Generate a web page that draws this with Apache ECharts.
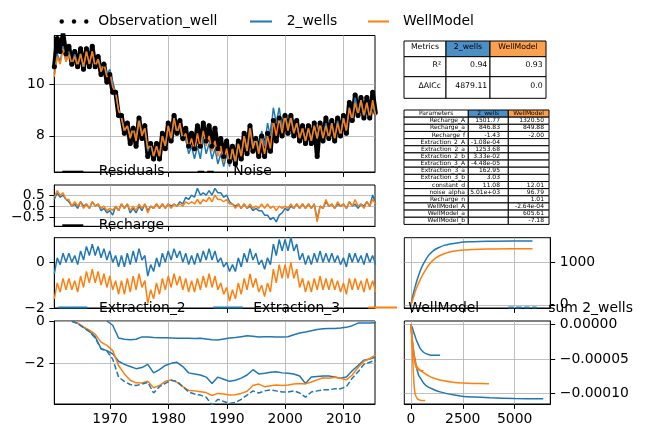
<!DOCTYPE html>
<html><head><meta charset="utf-8">
<script src="https://cdn.jsdelivr.net/npm/echarts@6.0.0/dist/echarts.min.js"></script>
<style>html,body{margin:0;padding:0;background:#fff}#c{width:647px;height:438px}</style>
</head><body><div id="c"></div>
<script>
// ================= DATA =================
const FIRST_DATE = 1960.46;   // decimal year of first sample
const HALF_YEAR = 0.5;        // sampling step of the semi-annual series
const ONE_YEAR = 1;           // sampling step of the annual series

const OBS = [10.7,
11.8,11.3, 12.0,11.2, 11.5,10.8, 11.3,10.7, 11.4,10.6, 11.4,10.7, 11.5,10.7, 11.1,10.4, 10.8,10.1, 10.4,9.7,
9.7,8.8, 8.8,8.1, 8.5,7.7, 8.3,7.6, 8.7,7.9, 8.4,7.2, 7.7,7.1, 7.7,7.1, 8.1,7.5, 8.5,7.8,
8.8,8.1, 8.6,7.9, 8.3,7.6, 8.1,7.5, 8.4,7.6, 8.5,7.8, 8.4,7.6, 8.3,7.5, 7.9,7.2, 7.8,7.0,
7.6,6.9, 7.8,7.1, 8.1,7.3, 8.4,7.4, 7.9,7.2, 8.0,7.2, 8.1,7.4, 8.6,7.8, 8.7,8.0, 8.8,8.1,
8.8,8.0, 8.6,7.8, 8.4,7.7, 8.4,7.7, 8.5,7.2, 8.5,7.8, 8.7,7.9, 8.6,7.8, 8.7,8.0, 8.8,8.1,
9.3,8.6, 9.6,8.8, 9.5,8.7, 9.5,8.7, 9.7,8.9];

const SIM_2WELLS = [10.4,
11.2,10.9, 11.5,10.9, 11.3,10.8, 11.2,10.8, 11.2,10.6, 11.3,10.8, 11.3,10.7, 11.0,10.6, 10.9,10.4, 10.6,10.1,
9.7,9.0, 8.7,8.2, 8.4,8.0, 8.4,7.9, 8.7,8.1, 8.3,7.4, 7.7,7.2, 7.6,7.2, 8.0,7.6, 8.4,7.8,
8.7,8.1, 8.4,7.8, 7.9,7.3, 7.6,7.1, 7.6,7.1, 7.9,7.3, 7.7,7.1, 7.5,6.9, 7.3,6.8, 7.3,6.8,
7.5,6.9, 7.7,7.2, 8.0,7.4, 8.4,7.6, 8.0,7.4, 8.2,7.6, 8.5,8.0, 9.1,8.5, 9.1,8.3, 8.9,8.3,
8.8,8.1, 8.5,7.9, 8.3,7.8, 8.3,7.8, 8.4,7.9, 8.5,7.9, 8.5,7.9, 8.5,7.9, 8.6,8.0, 8.7,8.2,
9.1,8.6, 9.5,8.9, 9.4,8.7, 9.3,8.7, 9.2,8.8];

const SIM_WELLMODEL = [10.3,
11.1,10.8, 11.4,10.9, 11.2,10.8, 11.1,10.7, 11.2,10.7, 11.3,10.8, 11.3,10.7, 11.0,10.5, 10.8,10.3, 10.5,9.9,
9.7,9.0, 8.7,8.2, 8.4,7.9, 8.3,7.8, 8.6,8.0, 8.3,7.5, 7.7,7.2, 7.6,7.2, 8.0,7.6, 8.4,7.9,
8.7,8.1, 8.5,7.9, 8.1,7.5, 7.9,7.4, 8.1,7.5, 8.2,7.6, 8.0,7.4, 7.8,7.2, 7.6,7.0, 7.5,6.9,
7.5,7.0, 7.7,7.2, 8.0,7.4, 8.3,7.5, 7.9,7.3, 7.9,7.3, 8.0,7.5, 8.6,8.0, 8.7,8.1, 8.8,8.2,
8.7,8.1, 8.5,7.9, 8.3,7.8, 8.3,7.8, 8.4,7.9, 8.5,7.9, 8.4,7.9, 8.5,7.9, 8.5,8.0, 8.7,8.2,
9.1,8.6, 9.3,8.8, 9.4,8.8, 9.3,8.7, 9.4,8.8];

const RES_2WELLS = [0.3,
0.6,0.4, 0.5,0.3, 0.2,0.0, 0.1,-0.1, 0.2,0.0, 0.1,-0.1, 0.2,0.0, 0.1,-0.2, -0.1,-0.3, -0.2,-0.4,
0.0,-0.2, 0.1,-0.1, 0.1,-0.3, -0.1,-0.3, 0.0,-0.2, 0.1,-0.2, 0.0,-0.1, 0.1,-0.1, 0.1,-0.1, 0.1,0.0,
0.1,0.0, 0.2,0.1, 0.4,0.3, 0.5,0.4, 0.8,0.5, 0.6,0.5, 0.7,0.5, 0.8,0.6, 0.6,0.4, 0.5,0.2,
0.1,0.0, 0.1,-0.1, 0.1,-0.1, 0.0,-0.2, -0.1,-0.2, -0.2,-0.4, -0.4,-0.6, -0.5,-0.7, -0.4,-0.3, -0.1,-0.2,
0.0,-0.1, 0.1,-0.1, 0.1,-0.1, 0.1,-0.1, 0.1,-0.6, 0.0,-0.1, 0.2,0.0, 0.1,-0.1, 0.1,0.0, 0.1,-0.1,
0.2,0.0, 0.1,-0.1, 0.1,0.0, 0.2,0.0, 0.5,0.1];

const RES_WELLMODEL = [0.4,
0.7,0.5, 0.6,0.3, 0.3,0.0, 0.2,0.0, 0.2,-0.1, 0.1,-0.1, 0.2,0.0, 0.1,-0.1, 0.0,-0.2, -0.1,-0.2,
0.0,-0.2, 0.1,-0.1, 0.1,-0.2, 0.0,-0.2, 0.1,-0.1, 0.1,-0.3, 0.0,-0.1, 0.1,-0.1, 0.1,-0.1, 0.1,-0.1,
0.1,0.0, 0.1,0.0, 0.2,0.1, 0.2,0.1, 0.3,0.1, 0.3,0.2, 0.4,0.2, 0.5,0.3, 0.3,0.2, 0.3,0.1,
0.1,-0.1, 0.1,-0.1, 0.1,-0.1, 0.1,-0.1, 0.0,-0.1, 0.1,-0.1, 0.1,-0.1, 0.0,-0.2, 0.0,-0.1, 0.0,-0.1,
0.1,-0.1, 0.1,-0.1, 0.1,-0.1, 0.1,-0.1, 0.1,-0.7, 0.0,-0.1, 0.3,0.0, 0.1,-0.1, 0.2,0.0, 0.1,-0.1,
0.2,0.0, 0.3,0.0, 0.1,-0.1, 0.2,0.0, 0.3,0.1];

const RECH_2WELLS = [-0.5,
0.2,-0.1, 0.4,0.0, 0.4,0.0, 0.3,-0.1, 0.5,0.1, 0.7,0.3, 0.8,0.3, 0.7,0.2, 0.6,0.1, 0.5,0.0,
0.3,-0.2, 0.3,-0.2, 0.4,-0.1, 0.5,0.0, 0.6,0.1, 0.3,-0.6, -0.1,-0.4, 0.2,-0.2, 0.4,0.0, 0.5,0.1,
0.6,0.2, 0.5,0.0, 0.4,-0.1, 0.3,-0.1, 0.4,0.0, 0.5,0.1, 0.6,0.1, 0.5,0.0, 0.2,-0.2, 0.0,-0.4,
-0.1,-0.4, 0.2,-0.2, 0.4,0.0, 0.6,0.1, 0.4,-0.1, 0.1,-0.3, 0.2,-0.1, 0.8,0.3, 1.0,0.5, 1.0,0.5,
1.1,0.5, 0.8,0.1, 0.4,-0.1, 0.3,-0.1, 0.4,0.0, 0.5,0.0, 0.4,0.0, 0.4,0.0, 0.3,-0.1, 0.2,-0.2,
0.4,0.0, 0.4,0.0, 0.3,-0.1, 0.4,0.0, 0.3,-0.1];

const RECH_WELLMODEL = [-1.6,
-0.9,-1.3, -0.7,-1.2, -0.7,-1.2, -0.8,-1.3, -0.6,-1.1, -0.4,-0.9, -0.3,-0.9, -0.4,-1.0, -0.5,-1.1, -0.6,-1.2,
-0.8,-1.4, -0.8,-1.4, -0.7,-1.3, -0.6,-1.2, -0.5,-1.1, -0.8,-1.8, -1.2,-1.6, -0.9,-1.4, -0.7,-1.2, -0.6,-1.1,
-0.5,-1.0, -0.6,-1.2, -0.7,-1.3, -0.8,-1.3, -0.7,-1.2, -0.6,-1.1, -0.5,-1.1, -0.6,-1.2, -0.9,-1.4, -1.1,-1.7,
-1.2,-1.6, -0.9,-1.4, -0.7,-1.2, -0.5,-1.1, -0.7,-1.3, -1.0,-1.5, -0.9,-1.3, -0.3,-0.9, -0.1,-0.7, -0.1,-0.7,
0.0,-0.7, -0.3,-1.1, -0.7,-1.3, -0.8,-1.3, -0.7,-1.2, -0.6,-1.2, -0.7,-1.2, -0.7,-1.2, -0.8,-1.3, -0.9,-1.4,
-0.7,-1.2, -0.7,-1.2, -0.8,-1.3, -0.7,-1.2, -0.8,-1.3];

// annual contributions of the extraction wells
const EXTR_2 = [null,null,null,null,null,null,null,null,null,0,
-0.2,-0.8,-0.86,-0.88,-0.86,-0.75,-0.76,-0.78,-0.79,-0.79,
-0.80,-0.81,-0.82,-0.82,-0.83,-0.82,-0.85,-0.88,-0.9,-0.85,
-0.8,-0.78,-0.74,-0.7,-0.72,-0.75,-0.74,-0.74,-0.76,-0.76,
-0.74,-0.65,-0.57,-0.52,-0.46,-0.4,-0.37,-0.36,-0.35,-0.33,
-0.3,-0.22,-0.1,-0.09,-0.09,-0.08];
const EXTR_3 = [null,null,null,-0.01,-0.1,-0.3,-0.47,-0.75,-1.3,-1.4,
-1.55,-1.9,-2.05,-2.15,-2.25,-2.2,-2.05,-2.45,-2.3,-2.1,
-2.0,-1.95,-2.15,-2.45,-2.5,-2.55,-2.65,-2.95,-2.65,-2.75,
-2.85,-2.8,-2.7,-2.55,-2.3,-2.5,-2.47,-2.42,-2.4,-2.45,
-2.47,-2.5,-2.6,-2.95,-2.65,-2.62,-2.6,-2.6,-2.65,-2.7,
-2.65,-2.35,-2.1,-1.85,-1.8,-1.7];
const EXTR_WELLMODEL = [null,null,null,-0.01,-0.1,-0.28,-0.43,-0.62,-1.0,-1.15,
-1.4,-2.1,-2.5,-2.8,-2.92,-2.93,-2.85,-3.15,-3.05,-2.85,
-2.78,-2.9,-3.1,-3.28,-3.3,-3.34,-3.38,-3.52,-3.42,-3.45,
-3.5,-3.48,-3.42,-3.32,-3.05,-2.98,-3.1,-3.06,-3.02,-3.05,
-3.02,-2.98,-2.95,-2.97,-2.88,-2.78,-2.68,-2.7,-2.66,-2.7,
-2.78,-2.55,-2.2,-1.9,-1.78,-1.6];
const EXTR_SUM_2WELLS = [null,null,null,-0.01,-0.12,-0.32,-0.5,-0.8,-1.32,-1.42,
-1.8,-2.65,-2.85,-3.0,-3.05,-2.98,-2.9,-3.4,-3.1,-2.95,
-2.8,-2.85,-3.1,-3.35,-3.45,-3.5,-3.6,-3.98,-3.7,-3.8,
-3.9,-3.85,-3.7,-3.5,-3.3,-3.4,-3.3,-3.25,-3.3,-3.35,
-3.35,-3.3,-3.4,-3.6,-3.35,-3.3,-3.25,-3.25,-3.2,-3.2,
-3.1,-2.7,-2.4,-2.05,-1.95,-1.85];

// step responses (time in days)
const RSTEP_T = [0,100,200,300,450,600,850,1100,1330,1600,1970,2300,2770,3300,4050,5860];
const RSTEP_2WELLS = [0,230,420,590,800,960,1160,1280,1340,1395,1435,1460,1478,1488,1495,1500];
const RSTEP_WELLMODEL = [0,150,300,430,590,730,930,1060,1140,1200,1250,1275,1295,1305,1312,1318];

const ESTEP_EXTR2_T = [0,50,158,250,367,500,607,800,1088,1400,1729,2100,2530,3000,3812,5000,6380];
const ESTEP_EXTR2 = [0,-2.0e-5,-4.4e-5,-5.9e-5,-7.3e-5,-7.95e-5,-8.45e-5,-9.0e-5,-9.4e-5,-9.75e-5,-1.0e-4,-1.02e-4,-1.04e-4,-1.05e-4,-1.06e-4,-1.07e-4,-1.075e-4];
const ESTEP_EXTR3_T = [0,60,125,200,280,366,450,607,750,928,1150,1409];
const ESTEP_EXTR3 = [0,-0.4e-5,-1.06e-5,-1.7e-5,-2.4e-5,-2.97e-5,-3.5e-5,-4.02e-5,-4.25e-5,-4.4e-5,-4.44e-5,-4.45e-5];
const ESTEP_WM1_T = [0,30,60,91,125,158,200,254,330,446,560,688];
const ESTEP_WM1 = [0,-1.5e-5,-3.3e-5,-5.4e-5,-7.5e-5,-9.0e-5,-1.0e-4,-1.045e-4,-1.08e-4,-1.095e-4,-1.1e-4,-1.1e-4];
const ESTEP_WM2_T = [0,30,60,91,150,207,280,367,480,607];
const ESTEP_WM2 = [0,-1.0e-5,-2.2e-5,-3.4e-5,-4.9e-5,-5.8e-5,-6.3e-5,-6.55e-5,-6.65e-5,-6.7e-5];
const ESTEP_WM3_T = [0,40,91,150,207,280,367,480,607,750,900,1088,1300,1600,2000,2500,3000,3760];
const ESTEP_WM3 = [0,-1.2e-5,-2.9e-5,-4.4e-5,-5.4e-5,-6.0e-5,-6.4e-5,-6.7e-5,-6.95e-5,-7.25e-5,-7.5e-5,-7.75e-5,-7.95e-5,-8.15e-5,-8.35e-5,-8.47e-5,-8.53e-5,-8.58e-5];

// tick labels
const YEAR_TICKS = [1970,1980,1990,2000,2010];
const HEAD_TICKS = [8,10];
const RES_TICKS = [-0.5,0,0.5];
const RES_LABELS_OUTER = [-0.5,0.5];
const RES_LABELS_MID = [0];
const RECH_TICKS = [-2,0];
const EXTR_TICKS = [-2,0];
const DAY_TICKS = [0,2500,5000];
const RSTEP_TICKS = [0,1000];
const ESTEP_TICKS = [-0.0001,-0.00005,0];

// tables
const METRIC_HEADER = ['Metrics','2_wells','WellModel'];
const METRIC_ROWS = [['R\u00b2','0.94','0.93'],['\u0394AICc','4879.11','0.0']];
const PARAM_HEADER = ['Parameters','2_wells','WellModel'];
const PARAM_NAMES = ['Recharge_A','Recharge_a','Recharge_f','Extraction_2_A','Extraction_2_a','Extraction_2_b','Extraction_3_A','Extraction_3_a','Extraction_3_b','constant_d','noise_alpha','Recharge_n','WellModel_A','WellModel_a','WellModel_b'];
const PARAM_2WELLS = ['1501.77','846.83','-1.43','-1.08e-04','1253.68','3.33e-02','-4.48e-05','162.95','3.03','11.08','5.01e+03','','','',''];
const PARAM_WELLMODEL = ['1320.50','849.88','-2.00','','','','','','','12.01','96.79','1.01','-2.64e-04','605.61','-7.18'];

// ================= CHART =================
const FONT = 'DejaVu Sans';
const FS = 13.9;
const BLUE = '#1f77b4', ORANGE = '#ff7f0e';
const chart = echarts.init(document.getElementById('c'), null, {renderer:'canvas', width:647, height:438});

const semiDates = OBS.map((_, i) => FIRST_DATE + i * HALF_YEAR);
const annualDates = EXTR_WELLMODEL.map((_, i) => FIRST_DATE + i * ONE_YEAR);
const pair = (xs, ys) => ys.map((y, i) => [xs[i], y]);
const minus = s => String(s).replace('-', '\u2212');

const grids = [
  {left:54.3, top:35.5, width:320.7, height:136.5},
  {left:54.3, top:185, width:320.7, height:41.3},
  {left:54.3, top:237.7, width:320.7, height:70.3},
  {left:54.3, top:321, width:320.7, height:83},
  {left:404.3, top:237.7, width:146, height:70.3},
  {left:404.3, top:321, width:146, height:83}
].map(g => Object.assign({show:true, borderColor:'#000', borderWidth:1, backgroundColor:'rgba(0,0,0,0)', containLabel:false, outerBoundsMode:'none'}, g));

function axis(gi, min, max, ticks, showLabel, fmt, pos, margin, labelValues) {
  return {type:'value', gridIndex:gi, min:min, max:max, position:pos, scale:true,
    axisLine:{show:true, onZero:false, lineStyle:{color:'#000', width:1}},
    axisTick:{show:true, inside:false, length:4.9, lineStyle:{color:'#000', width:1}, customValues:ticks},
    axisLabel:{show:showLabel, customValues:labelValues || ticks, formatter:fmt, color:'#000', fontFamily:FONT, fontSize:FS, margin:margin,
      hideOverlap:false, showMinLabel:true, showMaxLabel:true},
    splitLine:{show:true, lineStyle:{color:'#b0b0b0', width:0.8}},
    splitArea:{show:false}};
}
const fInt = v => minus(Math.round(v));
const f1 = v => minus(v.toFixed(1));
const f5 = v => minus(v.toFixed(5));
const fYear = v => String(Math.round(v));
const X0 = 1960.46, X1 = 2015.36, D0 = -320, D1 = 6720;

const xAxes = [
  axis(0, X0, X1, YEAR_TICKS, false, fYear, 'bottom', 8),
  axis(1, X0, X1, YEAR_TICKS, false, fYear, 'bottom', 8),
  axis(2, X0, X1, YEAR_TICKS, false, fYear, 'bottom', 8),
  axis(3, X0, X1, YEAR_TICKS, true, fYear, 'bottom', 8),
  axis(4, D0, D1, DAY_TICKS, false, fInt, 'bottom', 8),
  axis(5, D0, D1, DAY_TICKS, true, fInt, 'bottom', 8)
];
// second (label-only) axis on the residual panel carries the middle label
const resMid = axis(1, -0.9, 0.95, RES_TICKS, true, f1, 'left', 9.5, RES_LABELS_MID);
resMid.axisLine = {show:false}; resMid.axisTick = {show:false}; resMid.splitLine = {show:false};
const yAxes = [
  axis(0, 6.59, 11.92, HEAD_TICKS, true, fInt, 'left', 9.5),
  axis(1, -0.9, 0.95, RES_TICKS, true, f1, 'left', 9.5, RES_LABELS_OUTER),
  axis(2, -2.0, 1.08, RECH_TICKS, true, fInt, 'left', 9.5),
  axis(3, -3.92, 0, EXTR_TICKS, true, fInt, 'left', 9.5),
  axis(4, -75, 1576, RSTEP_TICKS, true, fInt, 'right', 9.5),
  axis(5, -1.15e-4, 5e-6, ESTEP_TICKS, true, f5, 'right', 9.5),
  resMid
];

function ln(gi, data, color, extra) {
  return Object.assign({type:'line', xAxisIndex:gi, yAxisIndex:gi, data:data, showSymbol:false, symbol:'none',
    lineStyle:{color:color, width:1.5}, itemStyle:{color:color}, silent:true, animation:false, clip:true}, extra || {});
}
const series = [
  ln(0, pair(semiDates, OBS), '#000', {name:'Observation_well', symbol:'circle', symbolSize:5, showSymbol:true,
     lineStyle:{color:'#000', width:4.5, cap:'round', join:'round'}}),
  ln(0, pair(semiDates, SIM_2WELLS), BLUE, {name:'2_wells'}),
  ln(0, pair(semiDates, SIM_WELLMODEL), ORANGE, {name:'WellModel'}),
  ln(1, pair(semiDates, RES_2WELLS), BLUE),
  ln(1, pair(semiDates, RES_WELLMODEL), ORANGE),
  ln(2, pair(semiDates, RECH_2WELLS), BLUE),
  ln(2, pair(semiDates, RECH_WELLMODEL), ORANGE),
  ln(3, pair(annualDates, EXTR_2), BLUE),
  ln(3, pair(annualDates, EXTR_3), BLUE),
  ln(3, pair(annualDates, EXTR_WELLMODEL), ORANGE),
  ln(3, pair(annualDates, EXTR_SUM_2WELLS), BLUE, {lineStyle:{color:BLUE, width:1.5, type:[5.5,2.4]}}),
  ln(4, pair(RSTEP_T, RSTEP_2WELLS), BLUE, {smooth:0.3}),
  ln(4, pair(RSTEP_T, RSTEP_WELLMODEL), ORANGE, {smooth:0.3}),
  ln(5, pair(ESTEP_EXTR2_T, ESTEP_EXTR2), BLUE, {smooth:0.3}),
  ln(5, pair(ESTEP_EXTR3_T, ESTEP_EXTR3), BLUE, {smooth:0.3}),
  ln(5, pair(ESTEP_WM1_T, ESTEP_WM1), ORANGE, {smooth:0.3}),
  ln(5, pair(ESTEP_WM2_T, ESTEP_WM2), ORANGE, {smooth:0.3}),
  ln(5, pair(ESTEP_WM3_T, ESTEP_WM3), ORANGE, {smooth:0.3})
];

// ---------- graphic: legends and tables ----------
const G = [];
function txt(text, x, y, size, align) {
  G.push({type:'text', z:100, silent:true, style:{text:text, x:x, y:y, fill:'#000',
    font: size + 'px "' + FONT + '"', textAlign:align || 'left', textVerticalAlign:'middle',
    align:align || 'left', verticalAlign:'middle'}});
}
function seg(x1, y1, x2, y2, color, w, dash) {
  G.push({type:'line', z:100, silent:true, shape:{x1:x1, y1:y1, x2:x2, y2:y2},
    style:{stroke:color, lineWidth:w, lineDash:dash || null}});
}
function box(x, y, w, h, fill) {
  G.push({type:'rect', z:99, silent:true, shape:{x:x, y:y, width:w, height:h},
    style:{fill:fill, stroke:'#000', lineWidth:1}});
}
// top legend
[61.7, 74, 86.3].forEach(cx => G.push({type:'circle', z:100, silent:true, shape:{cx:cx, cy:21.5, r:2.2}, style:{fill:'#000'}}));
txt('Observation_well', 98.3, 21.8, FS);
seg(250, 21.5, 272, 21.5, BLUE, 2);
txt('2_wells', 286.7, 21.8, FS);
seg(368, 21.5, 389, 21.5, ORANGE, 2);
txt('WellModel', 403, 21.8, FS);
// residual legend
seg(62.3, 171.7, 83.3, 171.7, '#000', 2);
txt('Residuals', 98.7, 171.8, FS);
seg(197.7, 171.7, 216, 171.7, '#000', 2, [6.5, 3]);
txt('Noise', 233.3, 171.8, FS);
// recharge legend
seg(62.3, 225.3, 83.3, 225.3, '#000', 2);
txt('Recharge', 98.7, 225.6, FS);
// extraction legend
seg(58.3, 307.5, 87.3, 307.5, BLUE, 2);
txt('Extraction_2', 99, 308, FS);
seg(213.3, 307.5, 242.7, 307.5, BLUE, 2);
txt('Extraction_3', 253.3, 308, FS);
seg(368.3, 307.5, 397, 307.5, ORANGE, 2);
txt('WellModel', 408.3, 308, FS);
seg(508.3, 307.5, 536.7, 307.5, BLUE, 2, [5.5, 2.4]);
txt('sum 2_wells', 548.3, 308, FS);

// metrics table
const HEAD_BLUE = '#4c8fc4', HEAD_ORANGE = '#fba04d';
const T1X = [404, 446, 490, 546], T1Y = [41, 56.7, 76.7, 98.3], T1F = 7.75;
const headFill = c => c === 1 ? HEAD_BLUE : (c === 2 ? HEAD_ORANGE : '#fff');
for (let r = 0; r < 3; r++) for (let c = 0; c < 3; c++) box(T1X[c], T1Y[r], T1X[c+1]-T1X[c], T1Y[r+1]-T1Y[r], r === 0 ? headFill(c) : '#fff');
METRIC_HEADER.forEach((h, c) => txt(h, (T1X[c]+T1X[c+1])/2, (T1Y[0]+T1Y[1])/2 - 2, T1F, 'center'));
const T1PAD = [5, 2.7, 3.3];
METRIC_ROWS.forEach((row, r) => row.forEach((v, c) => txt(v, T1X[c+1] - T1PAD[c], (T1Y[r+1]+T1Y[r+2])/2 - 2, T1F, 'right')));

// parameter table
const T2X = [404, 468.3, 508.3, 549], T2Y0 = 110, T2H = 7.15, T2F = 6;
const nRows = PARAM_NAMES.length + 1;
for (let r = 0; r < nRows; r++) for (let c = 0; c < 3; c++) box(T2X[c], T2Y0 + r*T2H, T2X[c+1]-T2X[c], T2H, r === 0 ? headFill(c) : '#fff');
PARAM_HEADER.forEach((h, c) => txt(h, (T2X[c]+T2X[c+1])/2, T2Y0 + T2H/2, T2F, 'center'));
const T2PAD = [3.3, 8.3, 5];
PARAM_NAMES.forEach((name, i) => {
  const y = T2Y0 + (i+1.5)*T2H;
  txt(name, T2X[1] - T2PAD[0], y, T2F, 'right');
  if (PARAM_2WELLS[i]) txt(PARAM_2WELLS[i], T2X[2] - T2PAD[1], y, T2F, 'right');
  if (PARAM_WELLMODEL[i]) txt(PARAM_WELLMODEL[i], T2X[3] - T2PAD[2], y, T2F, 'right');
});

chart.setOption({
  animation:false,
  backgroundColor:'#fff',
  textStyle:{fontFamily:FONT},
  grid:grids,
  xAxis:xAxes,
  yAxis:yAxes,
  series:series,
  graphic:{elements:G}
});
</script>
</body></html>
